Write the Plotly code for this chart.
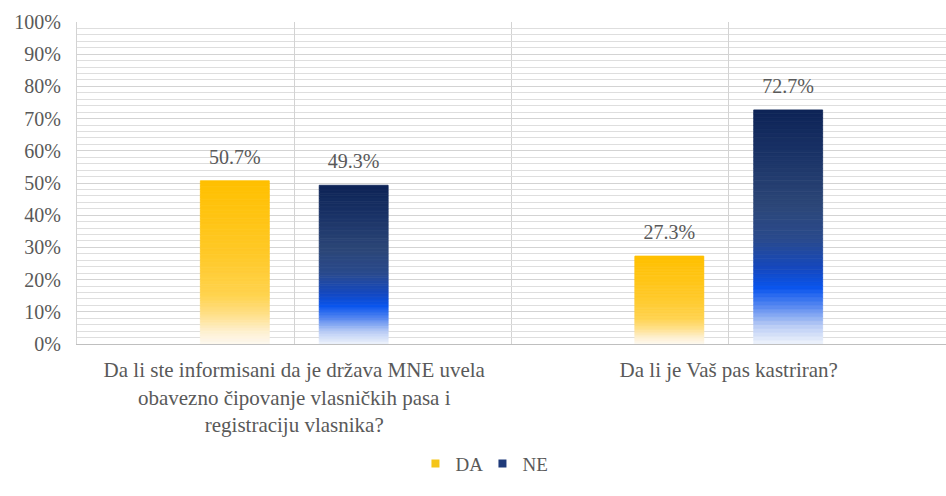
import plotly.graph_objects as go

categories = [
    "Da li ste informisani da je država MNE uvela<br>obavezno čipovanje vlasničkih pasa i<br>registraciju vlasnika?",
    "Da li je Vaš pas kastriran?",
]
series_names = ["DA", "NE"]
da_values = [50.7, 27.3]
ne_values = [49.3, 72.7]
y_ticks = list(range(0, 101, 10))
y_tick_labels = [f"{v}%" for v in y_ticks]

# gradient stops (t: 0 = bottom of bar, 1 = top of bar)
da_stops = [(0.00, "#FDF9F0"), (0.08, "#FEF0CF"), (0.18, "#FFE08A"),
            (0.30, "#FFD34E"), (0.55, "#FFC928"), (1.00, "#FFC000")]
ne_stops = [(0.00, "#F0F4FC"), (0.08, "#B9CCF5"), (0.16, "#5A8AF0"),
            (0.24, "#0A55EE"), (0.32, "#1448C0"), (0.45, "#2A4A8C"),
            (0.60, "#2C4677"), (0.80, "#1B3468"), (1.00, "#0D2356")]
legend_colors = {"DA": "#F5C518", "NE": "#1F3A7A"}

N_SEG = 60
FONT = "Liberation Serif"
TXT = "#595959"


def hex2rgb(h):
    h = h.lstrip("#")
    return [int(h[i:i + 2], 16) for i in (0, 2, 4)]


def interp(stops, t):
    for (t0, c0), (t1, c1) in zip(stops[:-1], stops[1:]):
        if t0 <= t <= t1:
            f = (t - t0) / (t1 - t0) if t1 > t0 else 0
            a, b = hex2rgb(c0), hex2rgb(c1)
            r = [round(a[k] + (b[k] - a[k]) * f) for k in range(3)]
            return f"rgb({r[0]},{r[1]},{r[2]})"
    return stops[-1][1]


fig = go.Figure()


def add_series(name, values, stops):
    for i in range(N_SEG):
        t = (i + 0.5) / N_SEG
        c = interp(stops, t)
        fig.add_trace(go.Bar(
            x=categories,
            y=[v / N_SEG for v in values],
            base=[v * i / N_SEG for v in values],
            offsetgroup=name,
            name=name,
            legendgroup=name,
            showlegend=False,
            marker=dict(color=c, line=dict(width=0.8, color=c)),
            hoverinfo="skip",
        ))


def add_labels(name, values):
    fig.add_trace(go.Scatter(
        x=categories, y=values, mode="markers+text",
        offsetgroup=name, name=name, legendgroup=name, showlegend=False,
        marker=dict(size=18, opacity=0),
        text=[f"{v}%" for v in values], textposition="top center",
        textfont=dict(family=FONT, size=20, color=TXT),
        cliponaxis=False, hoverinfo="skip",
    ))


def add_legend(name):
    fig.add_trace(go.Scatter(
        x=[None], y=[None], mode="markers", name=name, legendgroup=name,
        marker=dict(symbol="square", size=8, color=legend_colors[name]),
        showlegend=True,
    ))


add_series(series_names[0], da_values, da_stops)
add_series(series_names[1], ne_values, ne_stops)
add_labels(series_names[0], da_values)
add_labels(series_names[1], ne_values)
add_legend(series_names[0])
add_legend(series_names[1])

fig.update_layout(
    width=946, height=496,
    margin=dict(l=77, r=0, t=22, b=152),
    paper_bgcolor="white", plot_bgcolor="white",
    barmode="group", bargap=0.453, bargroupgap=0.42,
    scattermode="group", scattergap=0.453,
    font=dict(family=FONT, size=19, color=TXT),
    legend=dict(orientation="h", xref="container", yref="container",
                x=0.51, xanchor="center", y=0.065, yanchor="middle",
                font=dict(family=FONT, size=19, color=TXT),
                itemwidth=30, entrywidth=22, tracegroupgap=0),
    shapes=[dict(type="line", xref="x", yref="paper", x0=0.5, x1=0.5,
                 y0=0, y1=1, line=dict(color="#D3D3D3", width=1), layer="below")],
)
fig.update_xaxes(
    showgrid=True, gridcolor="#D3D3D3", gridwidth=1,
    showline=True, linecolor="#BFBFBF", linewidth=1,
    tickfont=dict(family=FONT, size=21, color=TXT),
    ticks="", range=[-0.5, 1.5], automargin=False,
    ticklabelstandoff=7,
)
fig.update_yaxes(
    range=[0, 100], tickvals=y_ticks, ticktext=y_tick_labels,
    showgrid=True, gridcolor="#D3D3D3", gridwidth=1,
    minor=dict(dtick=2, showgrid=True, gridcolor="#DEDEDE", gridwidth=1),
    showline=True, linecolor="#D3D3D3", zeroline=False,
    tickfont=dict(family=FONT, size=20, color=TXT),
    ticklabelstandoff=11, automargin=False,
)

fig.write_html("out.html", config={"displayModeBar": False},
               post_script="document.body.style.margin='0';")
